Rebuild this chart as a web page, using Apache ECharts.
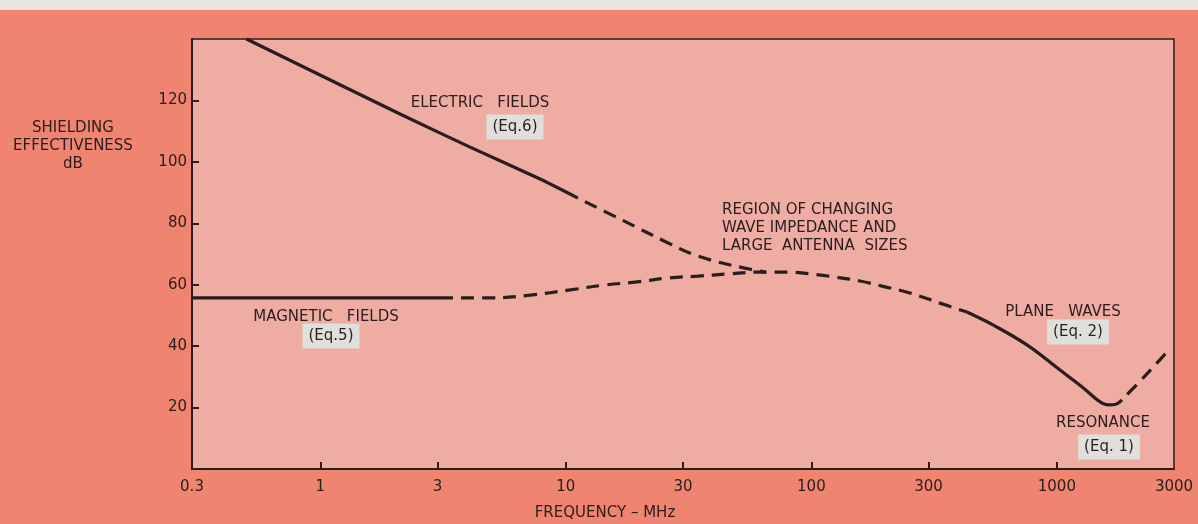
<!DOCTYPE html>
<html>
<head>
<meta charset="utf-8">
<title>Shielding effectiveness vs frequency</title>
<script src="https://cdn.jsdelivr.net/npm/echarts@6/dist/echarts.min.js"></script>
<style>
  html, body { margin: 0; padding: 0; background: #ef8470; }
  #chart { width: 1198px; height: 524px; }
</style>
</head>
<body>
<div id="chart"></div>
<script>
// Axis ticks: frequency in MHz (log scale) and shielding effectiveness in dB
const FREQ_TICK_LABELS = [0.3, 1, 3, 10, 30, 100, 300, 1000, 3000];
const FREQ_TICK_MARKS = [1, 3, 10, 30, 100, 300, 1000];
const DB_TICKS = [20, 40, 60, 80, 100, 120];

// Electric fields (Eq.6): solid part, then dashed continuation
const ELECTRIC_FREQ = [0.5, 2.11, 4.07, 7.85, 11.2];
const ELECTRIC_DB = [140, 115.6, 104.8, 94.4, 88.2];
const ELECTRIC_EXT_FREQ = [11.2, 16.9, 26.1, 32.7, 41.7, 53.6, 64.7];
const ELECTRIC_EXT_DB = [88.2, 81.1, 73.6, 70.0, 67.4, 65.4, 64.1];

// Magnetic fields (Eq.5)
const MAGNETIC_FREQ = [0.3, 3.47];
const MAGNETIC_DB = [55.7, 55.7];

// Region of changing wave impedance (dashed)
const TRANSITION_FREQ = [3.47, 4.91, 7.14, 10.4, 14.4, 19.5, 26.1, 34.5, 45.8, 60.6, 81.9, 98.7, 124.8, 157.8, 199.5, 252.2, 334, 430];
const TRANSITION_DB = [55.7, 55.7, 56.6, 58.3, 59.9, 60.9, 62.2, 62.8, 63.5, 64.1, 64.1, 63.5, 62.5, 61.2, 59.3, 57.3, 54.0, 51.1];

// Plane waves (Eq.2), running down into the resonance dip
const PLANE_FREQ = [430, 549, 755, 1030, 1300, 1480, 1620, 1740, 1842];
const PLANE_DB = [51.1, 46.9, 40.4, 32.2, 26.0, 22.2, 20.9, 21.1, 22.5];

// Resonance (Eq.1): rising branch (dashed)
const RESONANCE_FREQ = [1842, 2286, 2810];
const RESONANCE_DB = [22.5, 30.3, 38.1];

const INK = '#2a1d1d';
const FONT = '"DejaVu Sans", sans-serif';
const DASH = [13, 8];

// x is plotted as log10(frequency)
const toPoints = (freqs, dbs) => freqs.map((f, i) => [Math.log10(f), dbs[i]]);

function freqLabel(v) {
  let best = FREQ_TICK_LABELS[0];
  FREQ_TICK_LABELS.forEach(t => {
    if (Math.abs(Math.log10(t) - v) < Math.abs(Math.log10(best) - v)) best = t;
  });
  return String(best);
}

function curve(name, freqs, dbs, dashed, smooth) {
  return {
    name: name,
    type: 'line',
    data: toPoints(freqs, dbs),
    showSymbol: false,
    smooth: smooth,
    clip: true,
    lineStyle: dashed
      ? { color: INK, width: 3.2, type: DASH, dashOffset: 13, cap: 'butt' }
      : { color: INK, width: 3.2, type: 'solid', cap: 'butt' },
    emphasis: { disabled: true },
    z: 3
  };
}

function note(text, x, y, opts) {
  opts = opts || {};
  return {
    type: 'text',
    x: x,
    y: y,
    z: 10,
    style: Object.assign({
      text: text,
      font: (opts.size || 15) + 'px ' + FONT,
      fill: INK,
      align: opts.align || 'center',
      verticalAlign: opts.verticalAlign || 'middle',
      lineHeight: opts.lineHeight || 18
    }, opts.box ? { backgroundColor: '#dfe0dc', padding: [4, 6, 3, 6] } : {})
  };
}

const chart = echarts.init(document.getElementById('chart'), null, { renderer: 'canvas' });

chart.setOption({
  animation: false,
  backgroundColor: '#ef8470',
  grid: {
    left: 192, right: 24, top: 39, bottom: 55,
    show: true,
    backgroundColor: '#efaca3',
    borderColor: INK,
    borderWidth: 1.5
  },
  xAxis: {
    type: 'value',
    min: Math.log10(0.3),
    max: Math.log10(3000),
    axisLine: { show: true, onZero: false, lineStyle: { color: INK, width: 2 } },
    axisTick: {
      show: true, inside: true, length: 7,
      customValues: FREQ_TICK_MARKS.map(Math.log10),
      lineStyle: { color: INK, width: 2 }
    },
    axisLabel: {
      customValues: FREQ_TICK_LABELS.map(Math.log10),
      formatter: freqLabel,
      margin: 11,
      color: INK,
      fontSize: 15,
      fontFamily: FONT
    },
    splitLine: { show: false }
  },
  yAxis: {
    type: 'value',
    min: 0,
    max: 140,
    axisLine: { show: true, onZero: false, lineStyle: { color: INK, width: 2 } },
    axisTick: {
      show: true, inside: true, length: 7,
      customValues: DB_TICKS,
      lineStyle: { color: INK, width: 2 }
    },
    axisLabel: {
      customValues: DB_TICKS,
      margin: 5,
      color: INK,
      fontSize: 15,
      fontFamily: FONT
    },
    splitLine: { show: false }
  },
  series: [
    curve('Electric fields', ELECTRIC_FREQ, ELECTRIC_DB, false, 0.2),
    curve('Electric fields (extrapolated)', ELECTRIC_EXT_FREQ, ELECTRIC_EXT_DB, true, 0.4),
    curve('Magnetic fields', MAGNETIC_FREQ, MAGNETIC_DB, false, false),
    curve('Transition region', TRANSITION_FREQ, TRANSITION_DB, true, 0.4),
    curve('Plane waves', PLANE_FREQ, PLANE_DB, false, 0.4),
    curve('Resonance', RESONANCE_FREQ, RESONANCE_DB, true, 0.3)
  ],
  graphic: [
    { type: 'rect', shape: { x: 0, y: 0, width: 1198, height: 10 }, style: { fill: '#e8e6e3' }, z: 0 },
    note('SHIELDING\nEFFECTIVENESS\ndB', 73, 119, { size: 15, verticalAlign: 'top' }),
    note('FREQUENCY – MHz', 605, 513, { size: 15 }),
    note('ELECTRIC   FIELDS', 480, 103),
    note('(Eq.6)', 515, 127, { box: true }),
    note('MAGNETIC   FIELDS', 326, 317),
    note('(Eq.5)', 331, 336, { box: true }),
    note('REGION OF CHANGING\nWAVE IMPEDANCE AND\nLARGE  ANTENNA  SIZES', 722, 201, { align: 'left', verticalAlign: 'top' }),
    note('PLANE   WAVES', 1063, 312),
    note('(Eq. 2)', 1078, 332, { box: true }),
    note('RESONANCE', 1103, 423),
    note('(Eq. 1)', 1109, 447, { box: true })
  ]
});
</script>
</body>
</html>
